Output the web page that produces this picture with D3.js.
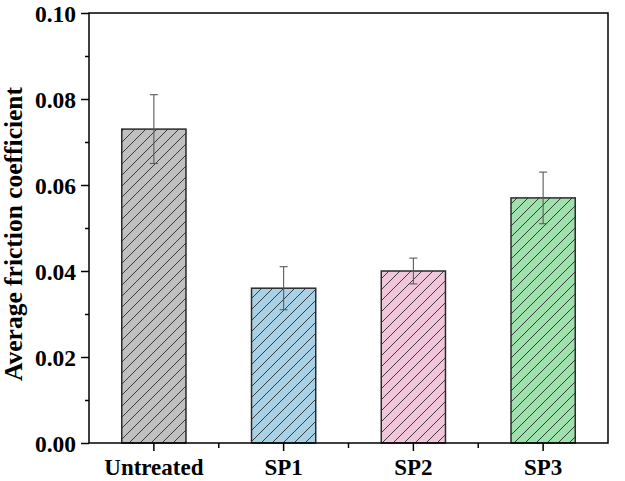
<!DOCTYPE html>
<html>
<head>
<meta charset="utf-8">
<script src="https://cdn.jsdelivr.net/npm/d3@7/dist/d3.min.js"></script>
<style>
html,body{margin:0;padding:0;background:#fff;}
svg{display:block;}
text{font-family:"Liberation Serif","Times New Roman",serif;font-weight:bold;fill:#000;}
</style>
</head>
<body>
<svg id="chart" width="625" height="481"></svg>
<script>
const categories = ["Untreated", "SP1", "SP2", "SP3"];
const values = [0.073, 0.036, 0.040, 0.057];
const errors = [0.008, 0.005, 0.003, 0.006];
const colors = ["#c0c0c0", "#a9d1e6", "#f1c6db", "#9fe1ad"];
const yTicks = [0.00, 0.02, 0.04, 0.06, 0.08, 0.10];
const yMinorTicks = [0.01, 0.03, 0.05, 0.07, 0.09];
const yLabel = "Average friction coefficient";

const svg = d3.select("#chart");
const m = {left: 89, right: 608, top: 13, bottom: 443};

const x = d3.scaleBand().domain(categories).range([m.left, m.right]).paddingInner(0).paddingOuter(0);
const y = d3.scaleLinear().domain([0, 0.10]).range([m.bottom, m.top]);
const barW = x.bandwidth() * 0.495;

const defs = svg.append("defs");
colors.forEach((c, i) => {
  const p = defs.append("pattern")
    .attr("id", "hatch" + i)
    .attr("patternUnits", "userSpaceOnUse")
    .attr("width", 11).attr("height", 11);
  p.append("rect").attr("width", 11).attr("height", 11).attr("fill", c);
  p.append("path")
    .attr("d", "M-1,12 L12,-1 M-6,6 L6,-6 M5,17 L17,5")
    .attr("stroke", "#2a2a2a").attr("stroke-width", 0.9).attr("fill", "none");
});

// bars
svg.append("g").selectAll("rect").data(categories).join("rect")
  .attr("x", d => x(d) + (x.bandwidth() - barW) / 2)
  .attr("y", (d, i) => y(values[i]))
  .attr("width", barW)
  .attr("height", (d, i) => y(0) - y(values[i]))
  .attr("fill", (d, i) => `url(#hatch${i})`)
  .attr("stroke", "#2b2b2b").attr("stroke-width", 1.5);

// error bars
const eb = svg.append("g").attr("stroke", "#5a5a5a").attr("stroke-width", 1.1).attr("fill", "none");
categories.forEach((c, i) => {
  const cx = x(c) + x.bandwidth() / 2;
  const top = y(values[i] + errors[i]);
  const bot = y(values[i] - errors[i]);
  eb.append("line").attr("x1", cx).attr("x2", cx).attr("y1", top).attr("y2", bot);
  eb.append("line").attr("x1", cx - 4).attr("x2", cx + 4).attr("y1", top).attr("y2", top);
  eb.append("line").attr("x1", cx - 4).attr("x2", cx + 4).attr("y1", bot).attr("y2", bot);
});

// frame
svg.append("rect").attr("x", m.left).attr("y", m.top)
  .attr("width", m.right - m.left).attr("height", m.bottom - m.top)
  .attr("fill", "none").attr("stroke", "#000").attr("stroke-width", 1.5);

// y axis
const yAxis = svg.append("g").attr("transform", `translate(${m.left},0)`)
  .call(d3.axisLeft(y).tickValues(yTicks).tickFormat(d3.format(".2f")).tickSize(8).tickPadding(5));
yAxis.select(".domain").remove();
yAxis.selectAll(".tick line").attr("stroke", "#000").attr("stroke-width", 1.5);
yAxis.selectAll("text").style("font-size", "23.5px").attr("dy", "0.34em");
svg.append("g").attr("transform", `translate(${m.left},0)`)
  .call(d3.axisLeft(y).tickValues(yMinorTicks).tickFormat("").tickSize(4))
  .call(g => g.select(".domain").remove())
  .selectAll(".tick line").attr("stroke", "#000").attr("stroke-width", 1.5);

// x axis
const xAxis = svg.append("g").attr("transform", `translate(0,${m.bottom})`)
  .call(d3.axisBottom(x).tickSize(8).tickPadding(8));
xAxis.select(".domain").remove();
xAxis.selectAll(".tick line").attr("stroke", "#000").attr("stroke-width", 1.5);
xAxis.selectAll("text").style("font-size", "23px");
// minor x ticks between categories
const xMinor = categories.slice(1).map(c => x(c));
svg.append("g").selectAll("line").data(xMinor).join("line")
  .attr("x1", d => d).attr("x2", d => d)
  .attr("y1", m.bottom).attr("y2", m.bottom + 5)
  .attr("stroke", "#000").attr("stroke-width", 1.5);

// y label
svg.append("text")
  .attr("transform", `translate(22,234) rotate(-90)`)
  .attr("text-anchor", "middle")
  .style("font-size", "25.5px")
  .text(yLabel);
</script>
</body>
</html>
